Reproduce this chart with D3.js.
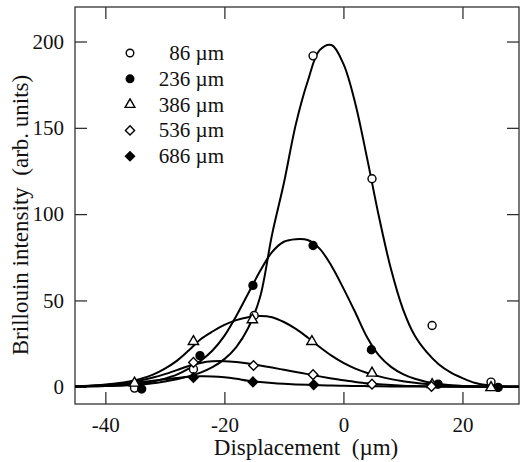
<!DOCTYPE html>
<html>
<head>
<meta charset="utf-8">
<script src="https://cdn.jsdelivr.net/npm/d3@7"></script>
<style>
  body { margin: 0; background: #fff; }
  svg text { font-family: "Liberation Serif", "DejaVu Serif", serif; fill: #111; }
</style>
</head>
<body>
<div id="chart"></div>
<script>
// ---- data ----
const depthLabels = ["86 \u00b5m", "236 \u00b5m", "386 \u00b5m", "536 \u00b5m", "686 \u00b5m"];
const xTicks = [-40, -20, 0, 20];
const yTicks = [0, 50, 100, 150, 200];

// measured points (displacement, intensity)
const pts86X  = [-35.1, -25.2, -15.0, -5.1, 4.8, 14.9, 24.8];
const pts86Y  = [-0.8, 10.2, 41.3, 191.7, 120.5, 35.5, 2.7];
const pts236X = [-33.9, -24.1, -15.2, -5.1, 4.7, 15.9, 26.0];
const pts236Y = [-1.3, 18.0, 58.7, 81.8, 21.4, 1.5, -0.4];
const pts386X = [-35.1, -25.2, -15.3, -5.3, 4.8, 14.9, 24.8];
const pts386Y = [2.1, 26.2, 38.8, 26.2, 7.9, 1.2, -0.5];
const pts536X = [-25.2, -15.1, -5.1, 4.8, 14.8];
const pts536Y = [14.1, 12.3, 7.0, 1.5, 0.2];
const pts686X = [-25.2, -15.2, -5.0];
const pts686Y = [5.4, 2.8, 1.2];

// fitted curves, sampled along displacement
const curveX = [-46, -44, -42, -40, -38, -36, -34, -32, -30, -28, -26, -24, -22, -20, -18, -16, -14, -12, -10, -8,
                -6, -4, -2, 0, 2, 4, 6, 8, 10, 12, 14, 16, 18, 20, 22, 24, 26, 28, 30];
const fit86  = [0.1, 0.2, 0.3, 0.4, 0.6, 0.9, 1.3, 2, 3, 4.3, 6, 8.2, 11.3, 16, 23, 34, 52, 88, 118, 152,
                177, 195, 198, 187, 164, 132, 98, 68, 45, 29.5, 20, 13, 8.3, 5, 2.3, 1.0, 0.4, 0.15, 0.05];
const fit236 = [0.1, 0.15, 0.25, 0.4, 0.7, 1.2, 1.9, 3, 4.7, 7, 10.5, 15, 21, 29.5, 41, 54, 67, 78, 84, 85.5,
                85, 80, 70, 57, 43, 28.5, 18, 11.5, 7.3, 4.6, 2.8, 1.6, 0.9, 0.5, 0.25, 0.12, 0.06, 0.03, 0];
const fit386 = [0.2, 0.4, 0.7, 1.3, 2, 3.1, 4.7, 7, 10.5, 15, 21, 27.5, 32, 35.8, 38.6, 40.3, 41, 40.3, 37.5, 33.5,
                28.5, 23, 18, 13.8, 10.5, 8, 6, 4.4, 3.2, 2.3, 1.6, 1.1, 0.75, 0.5, 0.3, 0.2, 0.1, 0.05, 0];
const fit536 = [0.2, 0.35, 0.6, 1, 1.6, 2.5, 3.7, 5.3, 7.3, 9.6, 12, 13.8, 14.7, 14.8, 14.3, 13.5, 12.3, 11.1, 9.8, 8.5,
                7.3, 6, 4.8, 3.7, 2.8, 2.0, 1.4, 1.0, 0.6, 0.4, 0.25, 0.15, 0.1, 0.05, 0.03, 0.02, 0.01, 0, 0];
const fit686 = [0.2, 0.3, 0.55, 0.9, 1.4, 2.0, 2.7, 3.5, 4.3, 5.1, 5.8, 6.1, 6.0, 5.5, 4.6, 3.5, 2.75, 2.15, 1.7, 1.35,
                1.1, 0.9, 0.72, 0.58, 0.45, 0.35, 0.26, 0.19, 0.14, 0.1, 0.07, 0.05, 0.03, 0.02, 0.01, 0, 0, 0, 0];

const seriesPts = [[pts86X, pts86Y], [pts236X, pts236Y], [pts386X, pts386Y], [pts536X, pts536Y], [pts686X, pts686Y]];
const seriesFit = [fit86, fit236, fit386, fit536, fit686];

// ---- layout ----
const W = 520, H = 462;
const margin = { top: 7, right: 1, bottom: 58, left: 75 };
const width = W - margin.left - margin.right;
const height = H - margin.top - margin.bottom;

const svg = d3.select("#chart").append("svg")
  .attr("width", W)
  .attr("height", H);

const g = svg.append("g")
  .attr("transform", `translate(${margin.left},${margin.top})`);

const x = d3.scaleLinear().domain([-45.1, 29.5]).range([0, width]);
const y = d3.scaleLinear().domain([-10, 220]).range([height, 0]);

// marker styles: open circle, filled circle, open triangle, open diamond, filled diamond
const markers = [
  { type: d3.symbolCircle, size: 50, fill: "#fff", rot: 0 },
  { type: d3.symbolCircle, size: 50, fill: "#000", rot: 0 },
  { type: d3.symbolTriangle, size: 46, fill: "#fff", rot: 0 },
  { type: d3.symbolSquare, size: 46, fill: "#fff", rot: 45 },
  { type: d3.symbolSquare, size: 46, fill: "#000", rot: 45 }
];

g.append("clipPath").attr("id", "plotclip")
  .append("rect").attr("width", width).attr("height", height);

// axes with inward ticks
const fmt = d => String(d);
const xAxis = g.append("g")
  .attr("transform", `translate(0,${height})`)
  .call(d3.axisBottom(x).tickValues(xTicks).tickSizeInner(-12).tickSizeOuter(0).tickPadding(13).tickFormat(fmt));
const xTop = g.append("g")
  .call(d3.axisTop(x).tickValues(xTicks).tickSizeInner(-12).tickSizeOuter(0).tickFormat(""));
const yAxis = g.append("g")
  .call(d3.axisLeft(y).tickValues(yTicks).tickSizeInner(-12).tickSizeOuter(0).tickPadding(11).tickFormat(fmt));
const yRight = g.append("g")
  .attr("transform", `translate(${width},0)`)
  .call(d3.axisRight(y).tickValues(yTicks).tickSizeInner(-12).tickSizeOuter(0).tickFormat(""));

[xAxis, xTop, yAxis, yRight].forEach(a => {
  a.select(".domain").remove();
  a.selectAll(".tick line").attr("stroke", "#222").attr("stroke-width", 1.2);
  a.selectAll("text").style("font-size", "21px").attr("fill", "#111");
});

g.append("rect")
  .attr("width", width)
  .attr("height", height)
  .attr("fill", "none")
  .attr("stroke", "#333")
  .attr("stroke-width", 1.3);

// fitted curves
const line = d3.line()
  .x((d, i) => x(curveX[i]))
  .y(d => y(d))
  .curve(d3.curveCatmullRom.alpha(0.5));

g.append("g").attr("clip-path", "url(#plotclip)")
  .selectAll("path")
  .data(seriesFit)
  .enter().append("path")
  .attr("d", line)
  .attr("fill", "none")
  .attr("stroke", "#000")
  .attr("stroke-width", 2);

// measured points
seriesPts.forEach((s, k) => {
  const m = markers[k];
  const sym = d3.symbol().type(m.type).size(m.size);
  g.append("g").selectAll("path")
    .data(s[0].map((xv, i) => ({ x: xv, y: s[1][i] })))
    .enter().append("path")
    .attr("d", sym)
    .attr("transform", d => `translate(${x(d.x)},${y(d.y)}) rotate(${m.rot})`)
    .attr("fill", m.fill)
    .attr("stroke", "#000")
    .attr("stroke-width", 1.4);
});

// legend
const legend = svg.append("g").attr("transform", "translate(130,53)");
depthLabels.forEach((lab, k) => {
  const m = markers[k];
  const row = legend.append("g").attr("transform", `translate(0,${k * 25.8})`);
  row.append("path")
    .attr("d", d3.symbol().type(m.type).size(m.size * 0.9))
    .attr("transform", `rotate(${m.rot})`)
    .attr("fill", m.fill)
    .attr("stroke", "#000")
    .attr("stroke-width", 1.4);
  row.append("text")
    .attr("x", 94)
    .attr("y", 7)
    .attr("text-anchor", "end")
    .style("font-size", "21px")
    .text(lab);
});

// axis titles
svg.append("text")
  .attr("x", 306)
  .attr("y", 455)
  .attr("text-anchor", "middle")
  .style("font-size", "23px")
  .style("white-space", "pre")
  .text("Displacement  (\u00b5m)");

svg.append("text")
  .attr("transform", "translate(28,215) rotate(-90)")
  .attr("text-anchor", "middle")
  .style("font-size", "23px")
  .style("white-space", "pre")
  .text("Brillouin intensity  (arb. units)");
</script>
</body>
</html>
